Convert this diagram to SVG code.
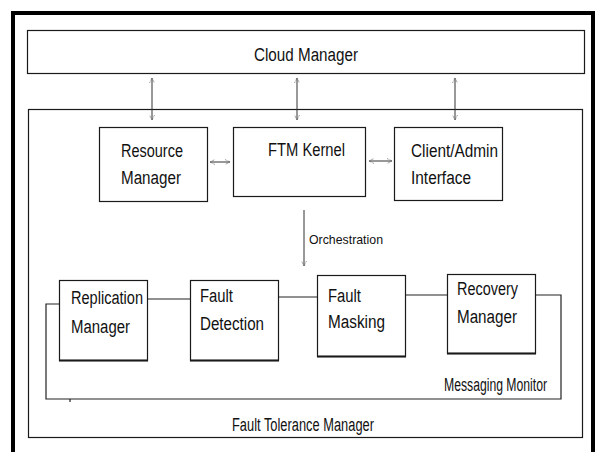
<svg xmlns="http://www.w3.org/2000/svg" width="598" height="452" viewBox="0 0 598 452">
<style>
  .box{fill:#fff;stroke:#1a1a1a;stroke-width:1.2}
  .shadow{stroke:#1a1a1a;stroke-width:2;fill:none}
  .t{font-family:"Liberation Sans",Arial,sans-serif;font-size:18px;fill:#111}
  .s{font-family:"Liberation Sans",Arial,sans-serif;font-size:13px;fill:#111}
  .ln{stroke:#222;stroke-width:1.2;fill:none}
  .ar{stroke:#333;stroke-width:1;fill:none}
</style>
<defs>
  <marker id="ah" viewBox="0 0 10 10" refX="9" refY="5" markerWidth="6" markerHeight="6" orient="auto-start-reverse" markerUnits="userSpaceOnUse">
    <path d="M1,1 L9,5 L1,9" fill="none" stroke="#555" stroke-width="1.2" stroke-dasharray="1.5 1"/>
  </marker>
</defs>
<rect x="0" y="0" width="598" height="452" fill="#fff"/>
<path d="M13,460 V13 H593 V460" fill="none" stroke="#000" stroke-width="4"/>

<g id="cloud-manager">
  <rect class="box" x="27.5" y="30.5" width="557" height="43"/>
  <text class="t" x="306" y="61" text-anchor="middle" textLength="104" lengthAdjust="spacingAndGlyphs">Cloud Manager</text>
</g>

<g id="fault-tolerance-manager">
  <rect class="box" x="28.5" y="109.5" width="554" height="328" fill="none"/>
  <text class="t" x="303" y="431" text-anchor="middle" font-size="16" textLength="142" lengthAdjust="spacingAndGlyphs">Fault Tolerance Manager</text>
</g>

<g id="connectors">
  <line class="ar" x1="152" y1="78" x2="152" y2="120" marker-start="url(#ah)" marker-end="url(#ah)"/>
  <line class="ar" x1="297" y1="78" x2="297" y2="120" marker-start="url(#ah)" marker-end="url(#ah)"/>
  <line class="ar" x1="455" y1="78" x2="455" y2="120" marker-start="url(#ah)" marker-end="url(#ah)"/>
  <line class="ar" x1="210" y1="162" x2="230" y2="162" marker-start="url(#ah)" marker-end="url(#ah)"/>
  <line class="ar" x1="369" y1="161" x2="392" y2="161" marker-start="url(#ah)" marker-end="url(#ah)"/>
  <line class="ar" x1="304" y1="210" x2="304" y2="266" marker-end="url(#ah)"/>
  <text class="s" x="309" y="244" textLength="74" lengthAdjust="spacingAndGlyphs">Orchestration</text>
  <line class="ln" x1="148" y1="299" x2="190" y2="299"/>
  <line class="ln" x1="278" y1="297" x2="317" y2="297"/>
  <line class="ln" x1="406" y1="295" x2="447" y2="295"/>
  <path class="ln" d="M535,295 H561 V399 H46 V304 H60"/>
  <line class="ln" x1="70" y1="399" x2="70" y2="402"/>
  <text class="t" x="547" y="391" text-anchor="end" font-size="15" textLength="103" lengthAdjust="spacingAndGlyphs">Messaging Monitor</text>
</g>

<g id="resource-manager">
  <rect class="box" x="99.5" y="127.5" width="108" height="74"/>
  <text class="t" x="121" y="157" textLength="62" lengthAdjust="spacingAndGlyphs">Resource</text>
  <text class="t" x="121" y="184" textLength="60" lengthAdjust="spacingAndGlyphs">Manager</text>
</g>

<g id="ftm-kernel">
  <rect class="box" x="233.5" y="127.5" width="132" height="69"/>
  <text class="t" x="268" y="156" textLength="77" lengthAdjust="spacingAndGlyphs">FTM Kernel</text>
</g>

<g id="client-admin-interface">
  <rect class="box" x="394.5" y="127.5" width="108" height="73"/>
  <text class="t" x="411" y="157" textLength="87" lengthAdjust="spacingAndGlyphs">Client/Admin</text>
  <text class="t" x="411" y="184" textLength="60" lengthAdjust="spacingAndGlyphs">Interface</text>
</g>

<g id="replication-manager">
  <rect class="box" x="59.5" y="280.5" width="88" height="80"/>
  <line class="shadow" x1="59" y1="360.5" x2="148" y2="360.5"/>
  <text class="t" x="71" y="304" textLength="72" lengthAdjust="spacingAndGlyphs">Replication</text>
  <text class="t" x="71" y="333" textLength="59" lengthAdjust="spacingAndGlyphs">Manager</text>
</g>

<g id="fault-detection">
  <rect class="box" x="190.5" y="280.5" width="88" height="80"/>
  <line class="shadow" x1="190" y1="360.5" x2="279" y2="360.5"/>
  <text class="t" x="200" y="302" textLength="33" lengthAdjust="spacingAndGlyphs">Fault</text>
  <text class="t" x="200" y="330" textLength="64" lengthAdjust="spacingAndGlyphs">Detection</text>
</g>

<g id="fault-masking">
  <rect class="box" x="317.5" y="275.5" width="88" height="81"/>
  <line class="shadow" x1="317" y1="356.5" x2="406" y2="356.5"/>
  <text class="t" x="328" y="302" textLength="33" lengthAdjust="spacingAndGlyphs">Fault</text>
  <text class="t" x="328" y="328" textLength="57" lengthAdjust="spacingAndGlyphs">Masking</text>
</g>

<g id="recovery-manager">
  <rect class="box" x="447.5" y="274.5" width="88" height="79"/>
  <line class="shadow" x1="447" y1="353.5" x2="536" y2="353.5"/>
  <text class="t" x="457" y="295" textLength="61" lengthAdjust="spacingAndGlyphs">Recovery</text>
  <text class="t" x="457" y="323" textLength="60" lengthAdjust="spacingAndGlyphs">Manager</text>
</g>
</svg>
